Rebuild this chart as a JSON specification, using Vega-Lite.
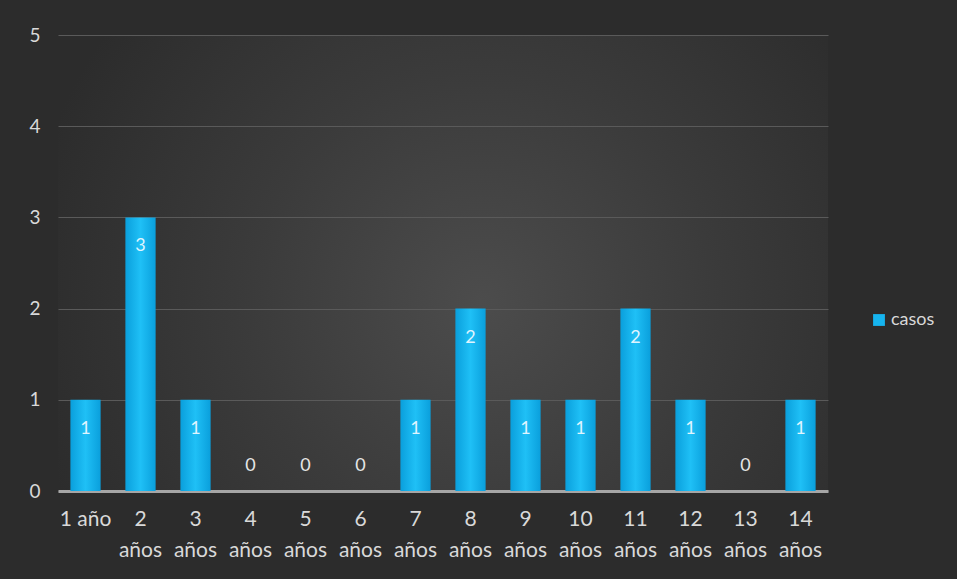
{
  "$schema": "https://vega.github.io/schema/vega-lite/v6.json",
  "width": 770,
  "height": 456,
  "autosize": {"type": "none"},
  "padding": {"left": 58, "top": 35, "right": 129, "bottom": 88},
  "background": "#2c2c2c",
  "config": {
    "font": "Lato",
    "view": {
      "stroke": null,
      "fill": {
        "gradient": "radial",
        "x1": 0.55, "y1": 0.55, "r1": 0,
        "x2": 0.55, "y2": 0.55, "r2": 0.6,
        "stops": [
          {"offset": 0, "color": "#4c4c4c"},
          {"offset": 0.5, "color": "#3b3b3b"},
          {"offset": 1, "color": "#2c2c2c"}
        ]
      }
    }
  },
  "data": {
    "values": [
      {"edad": "1 año", "casos": 1},
      {"edad": "2 años", "casos": 3},
      {"edad": "3 años", "casos": 1},
      {"edad": "4 años", "casos": 0},
      {"edad": "5 años", "casos": 0},
      {"edad": "6 años", "casos": 0},
      {"edad": "7 años", "casos": 1},
      {"edad": "8 años", "casos": 2},
      {"edad": "9 años", "casos": 1},
      {"edad": "10 años", "casos": 1},
      {"edad": "11 años", "casos": 2},
      {"edad": "12 años", "casos": 1},
      {"edad": "13 años", "casos": 0},
      {"edad": "14 años", "casos": 1}
    ]
  },
  "encoding": {
    "x": {
      "field": "edad",
      "type": "nominal",
      "sort": null,
      "scale": {"paddingInner": 0, "paddingOuter": 0},
      "axis": {
        "title": null,
        "labelAngle": 0,
        "labelFontSize": 21,
        "labelColor": "#d9d9d9",
        "labelPadding": 17,
        "labelLineHeight": 31,
        "labelOverlap": false,
        "labelExpr": "datum.label == '1 año' ? datum.label : split(datum.label, ' ')",
        "ticks": false,
        "domainColor": "#a6a6a6",
        "domainWidth": 3,
        "grid": false
      }
    },
    "y": {
      "field": "casos",
      "type": "quantitative",
      "scale": {"domain": [0, 5], "nice": false},
      "axis": {
        "title": null,
        "values": [0, 1, 2, 3, 4, 5],
        "labelOverlap": false,
        "labelFontSize": 19,
        "labelColor": "#d9d9d9",
        "labelPadding": 18,
        "ticks": false,
        "domain": false,
        "gridColor": "#5a5a5a",
        "gridWidth": 1
      }
    }
  },
  "layer": [
    {
      "mark": {
        "type": "bar",
        "width": {"band": 0.55},
        "fill": {
          "gradient": "linear",
          "x1": 0, "y1": 0, "x2": 1, "y2": 0,
          "stops": [
            {"offset": 0, "color": "#0a9fdc"},
            {"offset": 0.5, "color": "#1fc0f6"},
            {"offset": 1, "color": "#0a9fdc"}
          ]
        }
      }
    },
    {
      "mark": {"type": "point", "shape": "square", "filled": true, "opacity": 0},
      "encoding": {
        "color": {
          "datum": "casos",
          "scale": {"range": ["#16b4ef"]},
          "legend": {
            "title": null,
            "orient": "none",
            "legendX": 812,
            "legendY": 276,
            "symbolType": "square",
            "symbolSize": 140,
            "symbolOpacity": 1,
            "labelFontSize": 18,
            "labelColor": "#d9d9d9",
            "labelOffset": 3
          }
        }
      }
    },
    {
      "transform": [{"filter": "datum.casos > 0"}],
      "mark": {"type": "text", "dy": 29, "fontSize": 18, "color": "#dff4ff"},
      "encoding": {"text": {"field": "casos", "type": "quantitative"}}
    },
    {
      "transform": [{"filter": "datum.casos == 0"}],
      "mark": {"type": "text", "dy": -25, "fontSize": 18, "color": "#e6e6e6"},
      "encoding": {"text": {"field": "casos", "type": "quantitative"}}
    }
  ]
}
